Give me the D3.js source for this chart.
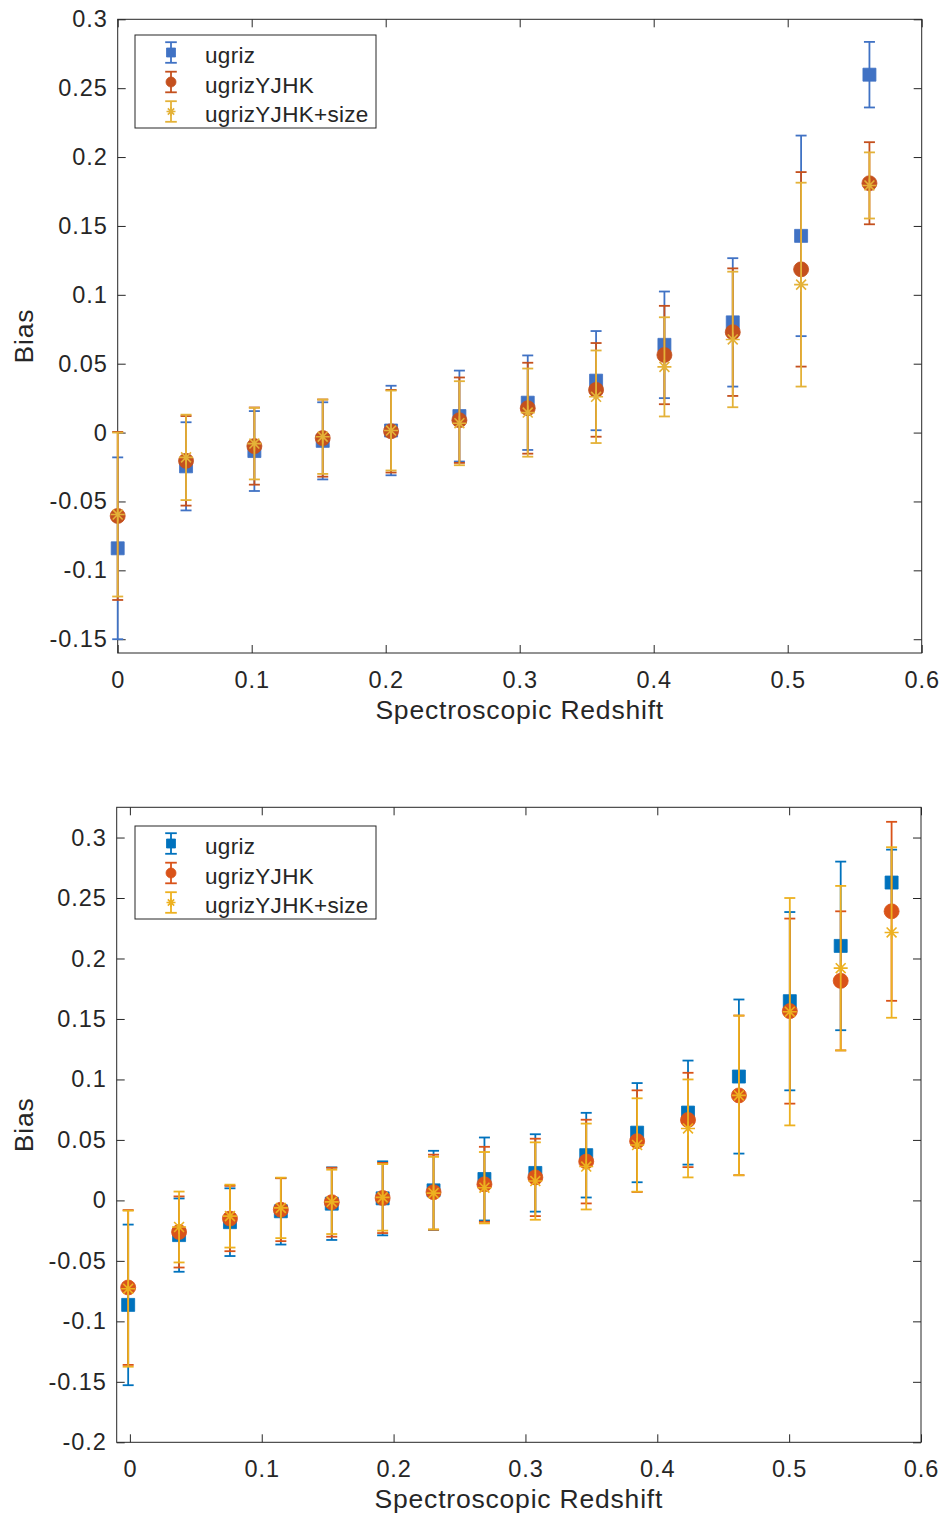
<!DOCTYPE html>
<html>
<head>
<meta charset="utf-8">
<script src="https://cdn.jsdelivr.net/npm/d3@7"></script>
<style>
  body { margin: 0; background: #fff; }
  text { font-family: "Liberation Sans", Arial, Helvetica, sans-serif; fill: #262626; }
</style>
</head>
<body>
<div id="chart"></div>
<script>
// series / legend
const seriesNames = ["ugriz", "ugrizYJHK", "ugrizYJHK+size"];
const seriesSymbols = ["square", "circle", "star"];

// tick labels
const xTicks = [0, 0.1, 0.2, 0.3, 0.4, 0.5, 0.6];
const topYTicks = [-0.15, -0.1, -0.05, 0, 0.05, 0.1, 0.15, 0.2, 0.25, 0.3];
const bottomYTicks = [-0.2, -0.15, -0.1, -0.05, 0, 0.05, 0.1, 0.15, 0.2, 0.25, 0.3];

// top panel
const topRedshift = [0, 0.051, 0.102, 0.153, 0.204, 0.255, 0.306, 0.357, 0.408, 0.459, 0.510, 0.561];
const topUgriz = [-0.084, -0.0245, -0.0134, -0.006, 0.0015, 0.012, 0.0217, 0.0377, 0.0637, 0.080, 0.1428, 0.2598];
const topUgrizErr = [0.066, 0.032, 0.029, 0.028, 0.0325, 0.033, 0.0343, 0.036, 0.0387, 0.0466, 0.0728, 0.0238];
const topYJHK = [-0.0605, -0.0205, -0.0098, -0.004, 0.001, 0.009, 0.0177, 0.031, 0.0563, 0.0729, 0.1185, 0.181];
const topYJHKErr = [0.061, 0.0325, 0.028, 0.028, 0.030, 0.031, 0.033, 0.034, 0.0357, 0.0463, 0.0706, 0.0298];
const topSize = [-0.0595, -0.018, -0.008, -0.003, 0.0015, 0.0068, 0.0145, 0.026, 0.0477, 0.0676, 0.1074, 0.1794];
const topSizeErr = [0.0595, 0.031, 0.026, 0.027, 0.029, 0.0305, 0.032, 0.0336, 0.036, 0.0492, 0.074, 0.024];

// bottom panel
const bottomRedshift = [-0.0013, 0.0373, 0.0759, 0.1145, 0.1531, 0.1917, 0.2303, 0.2689, 0.3075, 0.3461, 0.3847, 0.4233, 0.4619, 0.5005, 0.5391, 0.5777];
const bottomUgriz = [-0.0864, -0.0287, -0.018, -0.009, -0.0027, 0.0017, 0.0083, 0.0177, 0.0227, 0.0374, 0.056, 0.0726, 0.1024, 0.1647, 0.2104, 0.2628];
const bottomUgrizErr = [0.0664, 0.0303, 0.028, 0.0275, 0.030, 0.0306, 0.0327, 0.0343, 0.032, 0.035, 0.041, 0.043, 0.0637, 0.0737, 0.0697, 0.0272];
const bottomYJHK = [-0.072, -0.0261, -0.015, -0.0077, -0.0015, 0.002, 0.0068, 0.0133, 0.019, 0.0321, 0.049, 0.0665, 0.0868, 0.1565, 0.1815, 0.239];
const bottomYJHKErr = [0.064, 0.0294, 0.027, 0.026, 0.0285, 0.029, 0.031, 0.031, 0.032, 0.0346, 0.042, 0.039, 0.066, 0.0765, 0.0575, 0.074];
const bottomSize = [-0.073, -0.022, -0.013, -0.0062, -0.0012, 0.0025, 0.006, 0.0105, 0.016, 0.028, 0.0458, 0.0595, 0.0868, 0.156, 0.192, 0.2215];
const bottomSizeErr = [0.0645, 0.0293, 0.026, 0.025, 0.0266, 0.0275, 0.030, 0.0295, 0.032, 0.0355, 0.0386, 0.0405, 0.066, 0.094, 0.068, 0.0705];

const svg = d3.select("#chart").append("svg")
  .attr("width", 942)
  .attr("height", 1520);

class BiasPlot {
  constructor(_config, _data) {
    this.config = {
      left: _config.left,
      right: _config.right,
      top: _config.top,
      bottom: _config.bottom,
      xDomain: _config.xDomain,
      yDomain: _config.yDomain,
      yTicks: _config.yTicks,
      colors: _config.colors,
      legendTop: _config.legendTop,
      tickLength: 8,
      capHalf: 5.5
    };
    this.data = _data;
    this.initVis();
  }

  initVis() {
    let vis = this;
    const c = vis.config;

    vis.g = svg.append("g");

    vis.x = d3.scaleLinear().domain(c.xDomain).range([c.left, c.right]);
    vis.y = d3.scaleLinear().domain(c.yDomain).range([c.bottom, c.top]);

    const fmt = d => String(+d.toFixed(2));

    let xAxis = d3.axisBottom(vis.x).tickValues(xTicks).tickFormat(fmt)
      .tickSizeInner(-c.tickLength).tickSizeOuter(0).tickPadding(18.5);
    let yAxis = d3.axisLeft(vis.y).tickValues(c.yTicks).tickFormat(fmt)
      .tickSizeInner(-c.tickLength).tickSizeOuter(0).tickPadding(10);
    let xAxisTop = d3.axisTop(vis.x).tickValues(xTicks).tickFormat("")
      .tickSizeInner(-c.tickLength).tickSizeOuter(0);
    let yAxisRight = d3.axisRight(vis.y).tickValues(c.yTicks).tickFormat("")
      .tickSizeInner(-c.tickLength).tickSizeOuter(0);

    const styleAxis = (sel) => {
      sel.select(".domain").remove();
      sel.selectAll("line").attr("stroke", "#262626").attr("stroke-width", 1);
      sel.selectAll("text")
        .attr("fill", "#262626")
        .style("font-size", "23.5px")
        .style("letter-spacing", "0.9px")
        .style("font-family", '"Liberation Sans", Arial, sans-serif');
    };

    vis.g.append("g").attr("transform", `translate(0,${c.bottom})`).call(xAxis).call(styleAxis);
    vis.g.append("g").attr("transform", `translate(0,${c.top})`).call(xAxisTop).call(styleAxis);
    vis.g.append("g").attr("transform", `translate(${c.left},0)`).call(yAxis).call(styleAxis);
    vis.g.append("g").attr("transform", `translate(${c.right},0)`).call(yAxisRight).call(styleAxis);
    vis.g.selectAll(".tick text").filter(function() { return this.textContent === ""; }).remove();

    vis.g.append("rect")
      .attr("x", c.left)
      .attr("y", c.top)
      .attr("width", c.right - c.left)
      .attr("height", c.bottom - c.top)
      .attr("fill", "none")
      .attr("stroke", "#262626")
      .attr("stroke-width", 1);

    vis.g.append("text")
      .attr("x", (c.left + c.right) / 2)
      .attr("y", c.bottom + 65.5)
      .attr("text-anchor", "middle")
      .style("font-size", "26.5px")
      .style("letter-spacing", "0.8px")
      .text("Spectroscopic Redshift");

    vis.g.append("text")
      .attr("transform", `translate(33,${(c.top + c.bottom) / 2}) rotate(-90)`)
      .attr("text-anchor", "middle")
      .style("font-size", "26.5px")
      .style("letter-spacing", "0.8px")
      .text("Bias");

    vis.updateVis();
    vis.drawLegend();
  }

  markerPath(type, size) {
    if (type === "square") {
      return d3.symbol(d3.symbolSquare, size * size)();
    }
    if (type === "circle") {
      return d3.symbol(d3.symbolCircle, Math.PI * (size / 2) * (size / 2))();
    }
    // asterisk: plus and cross together
    let r = size / 2;
    let p = "";
    for (let a = 0; a < 180; a += 45) {
      let t = a * Math.PI / 180;
      let dx = r * Math.cos(t), dy = r * Math.sin(t);
      p += `M${-dx},${-dy}L${dx},${dy}`;
    }
    return p;
  }

  drawMarker(g, type, color, cx, cy, size) {
    let m = g.append("path")
      .attr("transform", `translate(${cx},${cy})`)
      .attr("d", this.markerPath(type, size));
    if (type === "star") {
      m.attr("fill", "none").attr("stroke", color).attr("stroke-width", 1.6);
    } else {
      m.attr("fill", color).attr("stroke", color).attr("stroke-width", 0.8);
    }
  }

  drawBar(g, color, cx, yTop, yBot, capHalf) {
    g.append("line")
      .attr("x1", cx).attr("x2", cx)
      .attr("y1", yTop).attr("y2", yBot)
      .attr("stroke", color).attr("stroke-width", 1.8);
    [yTop, yBot].forEach(yy => {
      g.append("line")
        .attr("x1", cx - capHalf).attr("x2", cx + capHalf)
        .attr("y1", yy).attr("y2", yy)
        .attr("stroke", color).attr("stroke-width", 1.8);
    });
  }

  updateVis() {
    let vis = this;
    const c = vis.config;
    const sizes = { square: 13, circle: 15, star: 14 };

    vis.data.series.forEach((s, k) => {
      let sg = vis.g.append("g").attr("class", "series");
      let color = c.colors[k];
      let type = seriesSymbols[k];
      vis.data.z.forEach((z, i) => {
        let cx = vis.x(z);
        vis.drawBar(sg, color, cx, vis.y(s.values[i] + s.errors[i]), vis.y(s.values[i] - s.errors[i]), c.capHalf);
        vis.drawMarker(sg, type, color, cx, vis.y(s.values[i]), sizes[type]);
      });
    });
  }

  drawLegend() {
    let vis = this;
    const c = vis.config;
    const sizes = { square: 9, circle: 10, star: 9 };
    let lg = vis.g.append("g").attr("class", "legend");

    lg.append("rect")
      .attr("x", 135)
      .attr("y", c.legendTop)
      .attr("width", 241)
      .attr("height", 93)
      .attr("fill", "#fff")
      .attr("stroke", "#262626")
      .attr("stroke-width", 1);

    seriesNames.forEach((name, k) => {
      let cy = c.legendTop + 17.5 + k * 29.5;
      vis.drawBar(lg, c.colors[k], 171, cy - 10.3, cy + 10.3, 5.8);
      vis.drawMarker(lg, seriesSymbols[k], c.colors[k], 171, cy, sizes[seriesSymbols[k]]);
      lg.append("text")
        .attr("x", 205)
        .attr("y", c.legendTop + 28.3 + k * 29.2)
        .style("font-size", "22.5px")
        .style("letter-spacing", "0.3px")
        .text(name);
    });
  }
}

new BiasPlot({
  left: 117.7, right: 921.7, top: 19.3, bottom: 653,
  xDomain: [0, 0.6], yDomain: [-0.16, 0.3],
  yTicks: topYTicks,
  colors: ["#4072C4", "#C4501E", "#E4B238"],
  legendTop: 35
}, {
  z: topRedshift,
  series: [
    { values: topUgriz, errors: topUgrizErr },
    { values: topYJHK, errors: topYJHKErr },
    { values: topSize, errors: topSizeErr }
  ]
});

new BiasPlot({
  left: 116.7, right: 921, top: 807.3, bottom: 1442.3,
  xDomain: [-0.01, 0.6], yDomain: [-0.2, 0.325],
  yTicks: bottomYTicks,
  colors: ["#0072BD", "#D95319", "#EDB120"],
  legendTop: 826
}, {
  z: bottomRedshift,
  series: [
    { values: bottomUgriz, errors: bottomUgrizErr },
    { values: bottomYJHK, errors: bottomYJHKErr },
    { values: bottomSize, errors: bottomSizeErr }
  ]
});
</script>
</body>
</html>
